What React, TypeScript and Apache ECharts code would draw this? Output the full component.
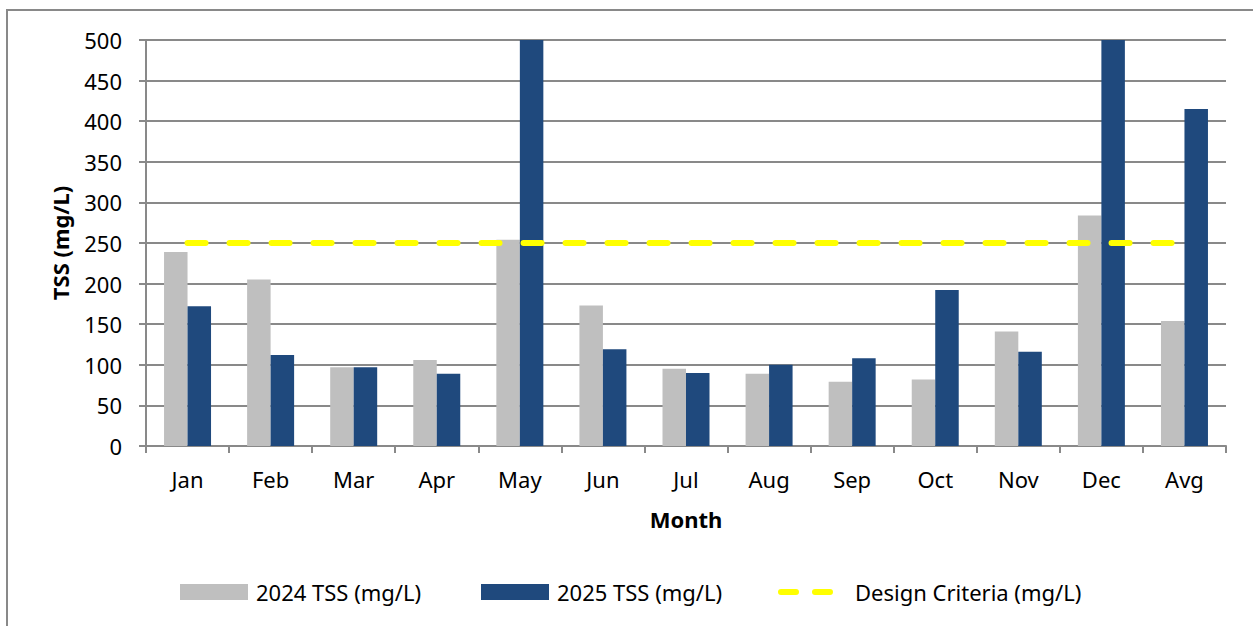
import React, { useEffect, useRef } from "react";
import * as echarts from "echarts";

const months = ["Jan", "Feb", "Mar", "Apr", "May", "Jun", "Jul", "Aug", "Sep", "Oct", "Nov", "Dec", "Avg"];
const tss2024 = [239, 205, 97, 106, 254, 173, 95, 89, 79, 82, 141, 284, 154];
// May and Dec 2025 exceed the 500 axis maximum (clipped in the reference); estimated so Avg ≈ 415
const tss2025 = [172, 112, 97, 89, 1850, 119, 90, 100, 108, 192, 116, 1935, 415];
const designCriteria = [250, 250, 250, 250, 250, 250, 250, 250, 250, 250, 250, 250, 250];
const yTicks = { min: 0, max: 500, interval: 50 };

const FONT = "Noto Sans";
const AXIS_COLOR = "#898989";
const DASH_ICON =
  "path://M3,0 H18 A3,3 0 0 1 18,6 H3 A3,3 0 0 1 3,0 Z M37,0 H52 A3,3 0 0 1 52,6 H37 A3,3 0 0 1 37,0 Z";

export default function App() {
  const ref = useRef<HTMLDivElement>(null);
  useEffect(() => {
    if (!ref.current) return;
    const chart = echarts.init(ref.current, null, { renderer: "svg" });
    const legendText = { fontFamily: FONT, fontSize: 22, color: "#000", padding: [0, 0, 0, 3] };
    chart.setOption({
      animation: false,
      backgroundColor: "#fff",
      textStyle: { fontFamily: FONT },
      graphic: [
        {
          type: "rect",
          shape: { x: 7, y: 10, width: 1300, height: 700 },
          style: { fill: "none", stroke: AXIS_COLOR, lineWidth: 2 },
          silent: true,
          z: -10,
        },
      ],
      grid: { left: 146, right: 27, top: 40, bottom: 180, containLabel: false },
      legend: [
        {
          data: ["2024 TSS (mg/L)"],
          left: 180,
          top: 581,
          padding: 0,
          icon: "rect",
          itemWidth: 68,
          itemHeight: 16,
          textStyle: legendText,
        },
        {
          data: ["2025 TSS (mg/L)"],
          left: 481,
          top: 581,
          padding: 0,
          icon: "rect",
          itemWidth: 68,
          itemHeight: 16,
          textStyle: legendText,
        },
        {
          data: ["Design Criteria (mg/L)"],
          left: 778,
          top: 581,
          padding: 0,
          icon: DASH_ICON,
          itemWidth: 55,
          itemHeight: 6,
          itemStyle: { color: "#ffff00" },
          textStyle: { ...legendText, padding: [0, 0, 0, 17] },
        },
      ],
      xAxis: {
        type: "category",
        data: months,
        name: "Month",
        nameLocation: "middle",
        nameGap: 62,
        nameTextStyle: { fontFamily: FONT, fontSize: 22, fontWeight: "bold", color: "#000" },
        axisLine: { show: true, lineStyle: { color: AXIS_COLOR, width: 2 } },
        axisTick: { show: true, length: 7, lineStyle: { color: AXIS_COLOR, width: 2 } },
        axisLabel: { margin: 22, fontFamily: FONT, fontSize: 22, color: "#000" },
        splitLine: { show: false },
      },
      yAxis: {
        type: "value",
        min: yTicks.min,
        max: yTicks.max,
        interval: yTicks.interval,
        name: "TSS (mg/L)",
        nameLocation: "middle",
        nameGap: 75,
        nameTextStyle: { fontFamily: FONT, fontSize: 22, fontWeight: "bold", color: "#000" },
        axisLine: { show: true, lineStyle: { color: AXIS_COLOR, width: 2 } },
        axisTick: { show: true, length: 7, lineStyle: { color: AXIS_COLOR, width: 2 } },
        axisLabel: { margin: 24, fontFamily: FONT, fontSize: 22, color: "#000" },
        splitLine: { show: true, lineStyle: { color: AXIS_COLOR, width: 2 } },
      },
      series: [
        {
          name: "2024 TSS (mg/L)",
          type: "bar",
          data: tss2024,
          barWidth: 23.5,
          barGap: "0%",
          itemStyle: { color: "#bfbfbf" },
          clip: true,
        },
        {
          name: "2025 TSS (mg/L)",
          type: "bar",
          data: tss2025,
          barWidth: 23.5,
          barGap: "0%",
          itemStyle: { color: "#1f497d" },
          clip: true,
        },
        {
          name: "Design Criteria (mg/L)",
          type: "line",
          data: designCriteria,
          symbol: "none",
          showSymbol: false,
          z: 5,
          itemStyle: { color: "#ffff00" },
          lineStyle: { color: "#ffff00", width: 6, type: [18, 24], cap: "round" },
        },
      ],
    });
    return () => chart.dispose();
  }, []);
  return (
    <div
      ref={ref}
      style={{ position: "absolute", left: 0, top: 0, width: 1253, height: 626 }}
    />
  );
}
